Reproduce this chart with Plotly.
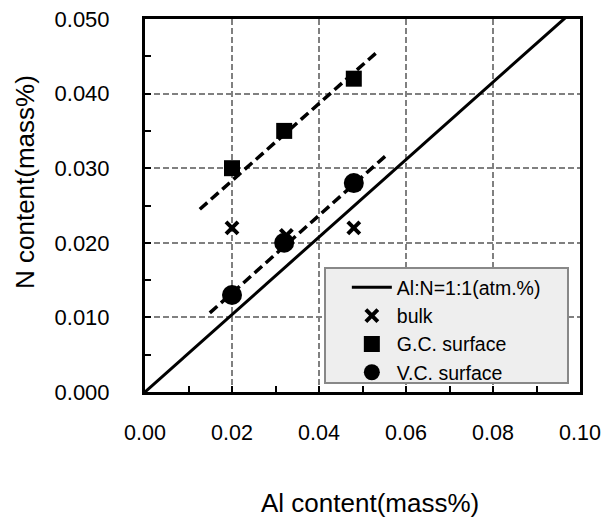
import plotly.graph_objects as go

# ---- data ----
bulk_x = [0.020, 0.0325, 0.048]
bulk_y = [0.022, 0.021, 0.022]
gc_x = [0.020, 0.032, 0.048]
gc_y = [0.030, 0.035, 0.042]
vc_x = [0.020, 0.032, 0.048]
vc_y = [0.013, 0.020, 0.028]
# Al:N = 1:1 (atomic) line endpoints
ref_x = [0.0, 0.1]
ref_y = [0.0, 0.1 * 14.007 / 26.982]
# dashed trend lines (endpoints)
gc_fit_x = [0.0126, 0.0536]
gc_fit_y = [0.0245, 0.0457]
vc_fit_x = [0.0149, 0.0556]
vc_fit_y = [0.0106, 0.0318]
# tick labels
x_ticks = [0.00, 0.02, 0.04, 0.06, 0.08, 0.10]
x_tick_text = ["0.00", "0.02", "0.04", "0.06", "0.08", "0.10"]
y_ticks = [0.000, 0.010, 0.020, 0.030, 0.040, 0.050]
y_tick_text = ["0.000", "0.010", "0.020", "0.030", "0.040", "0.050"]

FONT = "Liberation Sans, Arial, sans-serif"

fig = go.Figure()
fig.add_trace(go.Scatter(x=ref_x, y=ref_y, mode="lines", name="Al:N=1:1(atm.%)",
                         line=dict(color="black", width=3)))
fig.add_trace(go.Scatter(x=gc_fit_x, y=gc_fit_y, mode="lines", showlegend=False,
                         line=dict(color="black", width=3.5, dash="10px,5px")))
fig.add_trace(go.Scatter(x=vc_fit_x, y=vc_fit_y, mode="lines", showlegend=False,
                         line=dict(color="black", width=3.5, dash="10px,5px")))
fig.add_trace(go.Scatter(x=bulk_x, y=bulk_y, mode="markers", name="bulk",
                         marker=dict(symbol="x-thin", size=12, color="black",
                                     line=dict(color="black", width=4))))
fig.add_trace(go.Scatter(x=gc_x, y=gc_y, mode="markers", name="G.C. surface",
                         marker=dict(symbol="square", size=16, color="black")))
fig.add_trace(go.Scatter(x=vc_x, y=vc_y, mode="markers", name="V.C. surface",
                         marker=dict(symbol="circle", size=20, color="black")))

# legend box (drawn as a shape so that it can be wider than plotly's own box)
fig.add_shape(type="rect", xref="paper", yref="paper",
              x0=0.4138, x1=0.9724, y0=0.0241, y1=0.3324,
              fillcolor="#eeeeee", line=dict(color="#888888", width=2), layer="above")

fig.add_annotation(text="N content(mass%)", xref="paper", yref="paper",
                   x=-0.2759, y=0.563, textangle=-90, showarrow=False,
                   xanchor="center", yanchor="middle", font=dict(size=26))
fig.add_annotation(text="Al content(mass%)", xref="paper", yref="paper",
                   x=0.517, y=-0.298, showarrow=False,
                   xanchor="center", yanchor="middle", font=dict(size=26))

fig.update_layout(
    width=602, height=520,
    margin=dict(l=145, r=22, t=19, b=128),
    paper_bgcolor="white", plot_bgcolor="white",
    font=dict(family=FONT, size=22, color="black"),
    legend=dict(x=0.464, y=0.3324, xanchor="left", yanchor="top",
                bgcolor="rgba(0,0,0,0)", borderwidth=0,
                font=dict(family=FONT, size=19.5, color="black"),
                itemwidth=40, tracegroupgap=0),
)
fig.update_xaxes(
    range=[0, 0.1], tickvals=x_ticks, ticktext=x_tick_text, automargin=False,
    tickfont=dict(size=21.5),
    showline=True, linecolor="black", linewidth=3, mirror=True,
    ticks="inside", ticklen=6, tickwidth=2, tickcolor="black",
    minor=dict(dtick=0.01, tick0=0, ticks="inside", ticklen=6, tickwidth=2, tickcolor="black", showgrid=False),
    showgrid=True, gridcolor="#808080", gridwidth=2, griddash="6px,3px",
    zeroline=False, ticklabelstandoff=19,
)
fig.update_yaxes(
    range=[0, 0.05], tickvals=y_ticks, ticktext=y_tick_text, automargin=False,
    showline=True, linecolor="black", linewidth=3, mirror=True,
    ticks="inside", ticklen=6, tickwidth=2, tickcolor="black",
    minor=dict(dtick=0.005, tick0=0, ticks="inside", ticklen=6, tickwidth=2, tickcolor="black", showgrid=False),
    showgrid=True, gridcolor="#808080", gridwidth=2, griddash="6px,3px",
    zeroline=False, ticklabelstandoff=28,
)
fig.write_html("out.html", config={"displayModeBar": False},
               post_script="document.body.style.margin='0';document.body.style.overflow='hidden';")
